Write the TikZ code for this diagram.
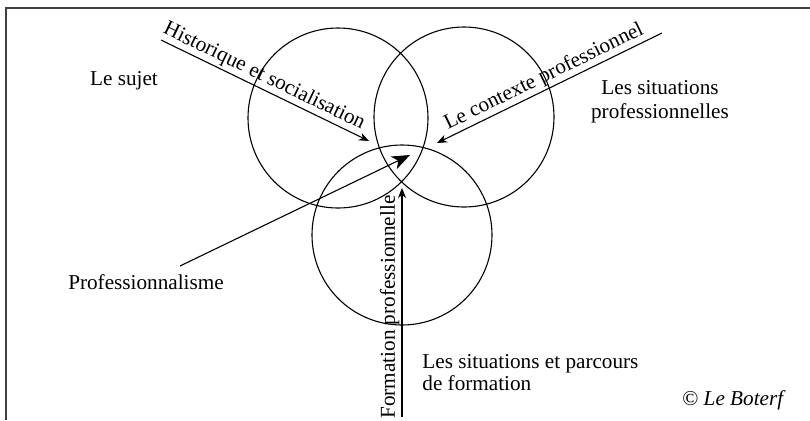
\documentclass[tikz,border=0pt]{standalone}
\usepackage{fontspec}
\setmainfont{Liberation Serif}
\usetikzlibrary{arrows.meta}

\begin{document}
\begin{tikzpicture}[x=0.5pt,y=-0.5pt,font=\fontsize{10.6}{11}\selectfont]

      \useasboundingbox (0,0) rectangle (810,420);
      \draw[line width=1pt,black!75] (810,8) -- (5.5,8) -- (5.5,420);

      \begin{scope}[every node/.style={circle,draw,line width=0.55pt,minimum size=90pt,inner sep=0pt}]
        \node (sujet) at (338,118) {};
        \node (contexte) at (464,117) {};
        \node (formation) at (402,235) {};
      \end{scope}

      \begin{scope}[every node/.style={inner sep=0pt}]
        \node[anchor=base] (lesujet) at (124,85) {Le sujet};
        \node[anchor=north,align=center,font=\fontsize{10.6}{12}\selectfont] (sitpro) at (660,80) {Les situations\\professionnelles};
        \node[anchor=base] (prof) at (146,289) {Professionnalisme};
        \node[anchor=north west,align=left] (sitform) at (422,354) {Les situations et parcours\\de formation};
        \node[anchor=base] (boterf) at (734,405) {© \textit{Le Boterf}};
      \end{scope}

      \coordinate (h1) at (161,40);
      \coordinate (h2) at (369,141);
      \coordinate (c1) at (662,33);
      \coordinate (c2) at (437,143);
      \coordinate (f1) at (402,417);
      \coordinate (f2) at (402,188);
      \coordinate (p1) at (180,266);
      \coordinate (p2) at (410,155);

      \begin{scope}[every node/.style={sloped,above,inner sep=1pt}]

        \begin{scope}[every edge/.style={draw,line width=0.55pt,-{Stealth[length=5pt,width=4pt,inset=1.5pt]}}]
          \path (h1) edge node[pos=0.47] {Historique et socialisation} (h2);
          \path (c1) edge node[pos=0.5] {Le contexte professionnel} (c2);
          \path (f1) edge node[pos=0.48] {Formation professionnelle} (f2);
        \end{scope}

        \begin{scope}[every edge/.style={draw,line width=0.55pt,-{Stealth[length=9pt,width=7pt,inset=2.5pt]}}]
          \path (p1) edge (p2);
        \end{scope}

      \end{scope}

    \end{tikzpicture}
\end{document}
